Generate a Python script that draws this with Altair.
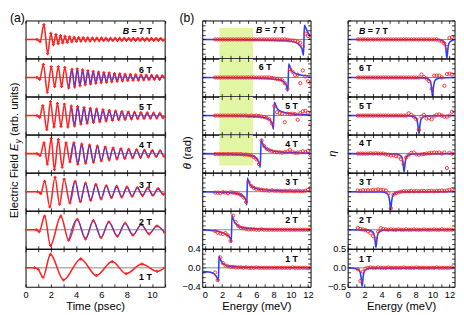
import altair as alt
import pandas as pd

FONT = "Liberation Sans"
RED = "#ff2222"
BLUE = "#2a3cff"
GRAY = "#888888"
GREEN = "#e2f5a2"

FIELDS = [7, 6, 5, 4, 3, 2, 1]

# ---------------- (a) time traces: extrema ----------------
a7_t = [0, 0.9, 1.15, 1.45, 1.75, 2.0, 2.2, 2.4, 2.58, 2.76, 2.94, 3.12, 3.3, 3.48, 3.66, 3.84, 4.02, 4.2, 4.38, 4.56,
        4.74, 4.92, 5.1, 5.28, 5.46, 5.64, 5.82, 6.0, 6.18, 6.36, 6.54, 6.72, 6.9, 7.08, 7.26, 7.44, 7.62, 7.8, 7.98,
        8.16, 8.34, 8.52, 8.7, 8.88, 9.06, 9.24, 9.42, 9.6, 9.78, 9.96, 10.14, 10.32, 10.5, 10.68, 10.86, 11.0]
a7_v = [0, 0, -0.12, 0.78, -0.75, 0.32, -0.28, 0.26, -0.22, 0.2, -0.18, 0.16, -0.15, 0.13, -0.12, 0.11, -0.1, 0.1,
        -0.09, 0.09, -0.08, 0.08, -0.08, 0.07, -0.07, 0.07, -0.07, 0.07, -0.06, 0.06, -0.06, 0.06, -0.06, 0.06, -0.06,
        0.06, -0.06, 0.06, -0.05, 0.05, -0.05, 0.05, -0.05, 0.05, -0.05, 0.05, -0.05, 0.05, -0.05, 0.05, -0.05, 0.05,
        -0.05, 0.05, -0.05, 0.0]
a6_t = [0, 0.9, 1.12, 1.41, 1.72, 2.03, 2.3, 2.59, 2.85, 3.1, 3.41, 3.67, 3.88, 4.09, 4.3, 4.51, 4.72, 4.93, 5.14,
        5.35, 5.56, 5.77, 5.98, 6.19, 6.4, 6.61, 6.82, 7.03, 7.24, 7.45, 7.66, 7.87, 8.08, 8.29, 8.5, 8.71, 8.92, 9.13,
        9.34, 9.55, 9.76, 9.97, 10.18, 10.39, 10.6, 10.81, 11.0]
a6_v = [0, 0, -0.1, 0.69, -0.78, 0.57, -0.47, 0.57, -0.47, 0.53, -0.55, 0.43, -0.5, 0.45, -0.43, 0.4, -0.38, 0.36,
        -0.34, 0.32, -0.3, 0.29, -0.27, 0.26, -0.25, 0.24, -0.22, 0.21, -0.2, 0.19, -0.18, 0.17, -0.16, 0.16, -0.15,
        0.14, -0.14, 0.13, -0.12, 0.12, -0.11, 0.11, -0.1, 0.1, -0.1, 0.09, -0.03]
a5_t = [0, 0.9, 1.12, 1.36, 1.68, 1.97, 2.25, 2.52, 2.8, 3.07, 3.35, 3.62, 3.87, 4.12, 4.37, 4.62, 4.87, 5.12, 5.37,
        5.62, 5.87, 6.12, 6.37, 6.62, 6.87, 7.12, 7.37, 7.62, 7.87, 8.12, 8.37, 8.62, 8.87, 9.12, 9.37, 9.62, 9.87,
        10.12, 10.37, 10.62, 10.87, 11.0]
a5_v = [0, 0, -0.1, 0.52, -0.74, 0.74, -0.6, 0.64, -0.57, 0.6, -0.6, 0.5, -0.55, 0.47, -0.45, 0.42, -0.4, 0.38,
        -0.36, 0.34, -0.32, 0.3, -0.28, 0.27, -0.25, 0.24, -0.22, 0.21, -0.2, 0.19, -0.18, 0.17, -0.16, 0.16, -0.15,
        0.14, -0.14, 0.13, -0.13, 0.12, -0.12, -0.05]
a4_t = [0, 0.9, 1.15, 1.46, 1.72, 2.03, 2.28, 2.59, 2.9, 3.2, 3.51, 3.82, 4.13, 4.44, 4.75, 5.06, 5.37, 5.68, 5.99,
        6.3, 6.61, 6.92, 7.23, 7.54, 7.85, 8.16, 8.47, 8.78, 9.09, 9.4, 9.71, 10.02, 10.33, 10.64, 10.95, 11.0]
a4_v = [0, 0, -0.1, 0.57, -0.55, 0.81, -0.85, 0.74, -0.72, 0.57, -0.43, 0.57, -0.55, 0.5, -0.5, 0.45, -0.45, 0.4,
        -0.38, 0.35, -0.33, 0.3, -0.28, 0.26, -0.25, 0.23, -0.22, 0.2, -0.2, 0.18, -0.17, 0.16, -0.15, 0.15, -0.14,
        -0.13]
a3_t = [0, 0.95, 1.2, 1.51, 1.92, 2.33, 2.69, 3.05, 3.51, 3.92, 4.33, 4.74, 5.15, 5.56, 5.97, 6.38, 6.79, 7.2, 7.61,
        8.02, 8.43, 8.84, 9.25, 9.66, 10.07, 10.48, 10.89, 11.0]
a3_v = [0, 0, -0.1, 0.55, -0.8, 0.76, -0.66, 0.66, -0.59, 0.55, -0.52, 0.45, -0.45, 0.38, -0.38, 0.31, -0.31, 0.28,
        -0.28, 0.24, -0.24, 0.21, -0.21, 0.19, -0.19, 0.16, -0.14, -0.1]
a2_t = [0, 0.85, 1.08, 1.51, 1.97, 2.79, 3.41, 4.08, 4.74, 5.36, 5.97, 6.59, 7.26, 7.87, 8.49, 9.15, 9.77, 10.38, 11.0]
a2_v = [0, 0, -0.1, 0.72, -0.83, 0.72, -0.55, 0.55, -0.48, 0.48, -0.41, 0.41, -0.34, 0.34, -0.28, 0.28, -0.22, 0.2,
        -0.15]
a1_t = [0, 0.7, 1.0, 1.38, 1.97, 3.0, 4.36, 5.6, 6.85, 7.95, 9.2, 10.4, 11.0]
a1_v = [0, 0, -0.08, -0.5, 0.71, -0.64, 0.47, -0.41, 0.33, -0.31, 0.2, -0.19, 0.0]
fit_fields = [6, 5, 4, 3, 2]
fit_start = [3.41, 3.62, 3.51, 3.51, 3.41]

# ---------------- (b) theta and eta ----------------
e_grid = [1.2, 1.5, 1.8, 2.1, 2.4, 2.7, 3.0, 3.3, 3.6, 3.9, 4.2, 4.5, 4.8, 5.1, 5.4, 5.7, 6.0, 6.3, 6.6, 6.9,
          7.2, 7.5, 7.8, 8.1, 8.4, 8.7, 9.0, 9.3, 9.6, 9.9, 10.2, 10.5, 10.8, 11.1, 11.4, 11.7, 12.0, 12.3]

th1 = [-0.10, -0.26, 0.22, 0.10, 0.05, 0.03, 0.02, 0.02, 0.01, 0.01, 0.01, 0.0, 0.01, 0.0, 0.0, 0.0, 0.01, 0.0, 0.0,
       0.0, 0.0, 0.0, 0.0, 0.0, 0.0, 0.0, 0.0, 0.0, 0.0, 0.0, 0.01, 0.0, 0.0, 0.0, 0.0, 0.0, -0.01, 0.0]
th2 = [-0.03, -0.06, -0.08, -0.09, -0.07, -0.12, -0.24, 0.30, 0.16, 0.08, 0.04, 0.03, 0.02, 0.01, 0.01, 0.01, 0.0,
       0.0, 0.01, 0.0, 0.0, 0.0, 0.0, 0.0, 0.0, 0.0, 0.0, 0.0, 0.0, 0.0, 0.0, 0.0, 0.0, 0.0, 0.0, 0.0, 0.0, 0.0]
th3 = [-0.02, -0.02, -0.03, -0.01, -0.02, -0.03, -0.01, -0.02, -0.03, -0.04, -0.07, -0.12, -0.22, 0.20, 0.12, 0.08,
       0.06, 0.05, 0.04, 0.03, 0.03, 0.02, 0.03, 0.02, 0.02, 0.02, 0.01, 0.02, 0.01, 0.02, 0.01, 0.01, 0.02, 0.01,
       0.01, 0.02, 0.04, 0.08]
th4 = [-0.01, -0.01, -0.01, -0.01, -0.01, -0.01, -0.01, -0.01, -0.01, -0.01, -0.01, -0.02, -0.02, -0.03, -0.04,
       -0.07, -0.12, -0.22, 0.28, 0.16, 0.10, 0.07, 0.05, 0.04, 0.03, 0.03, 0.02, 0.03, 0.04, 0.08, 0.03, 0.02, 0.02,
       0.03, 0.05, 0.03, 0.06, -0.04]
th5 = [0.0, 0.0, 0.0, 0.0, 0.0, 0.0, 0.0, 0.0, 0.0, 0.0, 0.0, 0.0, 0.0, -0.01, 0.0, -0.01, 0.0, -0.01, -0.02, -0.03,
       -0.05, -0.08, -0.17, 0.2, 0.07, 0.05, 0.04, -0.14, 0.04, 0.03, 0.04, 0.03, -0.09, 0.05, 0.09, 0.1, 0.06, -0.19]
th6 = [0.0, 0.0, 0.0, 0.0, 0.0, 0.0, 0.0, 0.0, 0.0, 0.0, 0.0, 0.0, 0.0, 0.0, 0.0, 0.0, 0.0, 0.0, 0.0, 0.0, 0.0, 0.0,
       -0.01, -0.02, -0.03, -0.04, -0.06, -0.12, -0.24, 0.18, 0.12, 0.05, 0.06, -0.12, 0.15, 0.02, -0.08, -0.12]
th7 = [0.0, 0.0, 0.0, 0.0, 0.0, 0.0, 0.0, 0.0, 0.0, 0.0, 0.0, 0.0, 0.0, 0.0, 0.0, 0.0, 0.0, 0.0, 0.0, 0.0, 0.0, 0.0,
       0.0, 0.0, 0.0, 0.0, 0.0, 0.0, -0.01, -0.02, -0.02, -0.03, -0.05, -0.07, -0.15, 0.12, 0.07, 0.04]

tb1_e = [-0.3, 0.5, 1.0, 1.3, 1.5, 1.58, 1.66, 1.75, 2.0, 2.5, 3.0, 4.0, 6.0, 12.3]
tb1_v = [-0.08, -0.09, -0.12, -0.17, -0.24, -0.28, 0.25, 0.2, 0.11, 0.05, 0.03, 0.015, 0.005, 0.0]
tb2_e = [-0.3, 1.0, 2.0, 2.5, 2.8, 3.0, 3.08, 3.16, 3.25, 3.5, 4.0, 5.0, 7.0, 12.3]
tb2_v = [0.0, -0.02, -0.06, -0.1, -0.14, -0.2, -0.27, 0.3, 0.26, 0.15, 0.07, 0.03, 0.01, 0.0]
tb3_e = [-0.3, 2.0, 3.5, 4.2, 4.6, 4.8, 4.88, 4.96, 5.05, 5.3, 5.8, 7.0, 9.0, 12.3]
tb3_v = [0.0, -0.01, -0.03, -0.07, -0.13, -0.2, -0.28, 0.29, 0.24, 0.14, 0.08, 0.04, 0.02, 0.01]
tb4_e = [-0.3, 3.0, 5.0, 5.8, 6.15, 6.35, 6.45, 6.55, 6.65, 6.9, 7.4, 8.5, 10.5, 12.3]
tb4_v = [0.0, -0.01, -0.03, -0.07, -0.14, -0.22, -0.29, 0.29, 0.25, 0.15, 0.08, 0.04, 0.02, 0.01]
tb5_e = [-0.3, 4.0, 6.5, 7.3, 7.7, 7.88, 7.98, 8.08, 8.18, 8.45, 9.0, 10.0, 11.5, 12.3]
tb5_v = [0.0, -0.01, -0.03, -0.06, -0.12, -0.2, -0.29, 0.28, 0.25, 0.14, 0.08, 0.04, 0.02, 0.01]
tb6_e = [-0.3, 5.0, 8.0, 8.9, 9.3, 9.55, 9.66, 9.76, 9.86, 10.1, 10.6, 11.5, 12.3]
tb6_v = [0.0, -0.01, -0.03, -0.06, -0.12, -0.2, -0.29, 0.29, 0.25, 0.14, 0.08, 0.04, 0.03]
tb7_e = [-0.3, 6.0, 9.5, 10.5, 11.0, 11.3, 11.48, 11.58, 11.7, 11.9, 12.1, 12.3]
tb7_v = [0.0, -0.01, -0.03, -0.06, -0.12, -0.2, -0.33, 0.3, 0.26, 0.18, 0.11, 0.08]

et1 = [-0.04, -0.35, -0.10, -0.02, 0.0, 0.01, 0.0, 0.0, 0.01, 0.0, 0.0, 0.0, 0.01, 0.0, 0.0, 0.0, 0.0, 0.0, 0.01,
       0.0, 0.0, 0.0, 0.0, 0.01, 0.0, 0.0, 0.0, 0.0, 0.0, 0.0, 0.0, 0.01, 0.0, 0.0, 0.0, 0.0, 0.0, 0.01]
et2 = [0.05, 0.02, 0.01, -0.01, -0.04, -0.09, -0.17, -0.24, -0.05, 0.04, 0.02, 0.01, 0.0, 0.01, 0.0, 0.0, 0.01, 0.0,
       0.0, 0.01, 0.0, 0.0, 0.01, 0.0, 0.0, 0.0, 0.01, 0.0, 0.0, 0.0, 0.01, 0.0, 0.0, 0.01, 0.0, 0.0, 0.0, 0.0]
et3 = [0.03, 0.02, 0.04, 0.03, 0.04, 0.03, 0.05, 0.04, 0.06, 0.05, 0.05, 0.03, -0.04, -0.44, -0.08, -0.04, -0.02,
       0.0, 0.01, 0.01, 0.01, 0.02, 0.01, 0.02, 0.01, 0.02, 0.02, 0.01, 0.02, 0.02, 0.01, 0.02, 0.02, 0.03, 0.02,
       0.03, 0.05, 0.06]
et4 = [0.0, 0.0, 0.0, 0.0, 0.0, 0.01, 0.0, 0.01, 0.0, 0.0, 0.0, -0.02, -0.03, -0.05, -0.04, -0.07, -0.08, -0.15,
       -0.28, -0.1, -0.03, 0.02, 0.03, -0.02, -0.03, -0.02, -0.01, 0.0, 0.01, 0.02, 0.03, 0.02, 0.03, 0.0, 0.03,
       -0.38, 0.02, 0.0]
et5 = [0.0, 0.0, 0.0, 0.0, 0.0, 0.0, 0.0, 0.0, 0.0, 0.0, 0.0, 0.0, 0.0, 0.0, 0.0, 0.0, 0.0, 0.0, 0.0, 0.0, 0.06,
       0.02, -0.03, -0.10, -0.38, -0.03, 0.02, -0.08, -0.06, -0.10, -0.02, 0.02, 0.03, 0.0, -0.03, -0.03, 0.0, 0.10]
et6 = [0.0, 0.0, 0.0, 0.0, 0.0, 0.0, 0.0, 0.0, 0.0, 0.0, 0.0, 0.0, 0.0, 0.0, 0.0, 0.0, 0.0, 0.0, 0.0, 0.0, 0.0,
       0.0, 0.0, 0.0, 0.0, 0.08, 0.01, -0.03, -0.1, -0.3, 0.05, 0.05, 0.05, 0.0, -0.22, 0.09, 0.1, 0.08]
et7 = [0.0, 0.0, 0.0, 0.0, 0.0, 0.0, 0.0, 0.0, 0.0, 0.0, 0.0, 0.0, 0.0, 0.0, 0.0, 0.0, 0.0, 0.0, 0.0, 0.0, 0.0,
       0.0, 0.0, 0.0, 0.0, 0.0, 0.0, 0.0, 0.0, 0.0, 0.0, 0.0, -0.03, -0.05, -0.11, -0.2, 0.04, 0.06]

eb1_e = [0.0, 0.7, 1.2, 1.45, 1.58, 1.7, 1.82, 1.95, 2.2, 2.7, 12.6]
eb1_v = [0.0, -0.01, -0.04, -0.1, -0.25, -0.49, -0.25, -0.1, -0.04, -0.01, 0.0]
eb2_e = [0.0, 2.33, 2.83, 3.08, 3.21, 3.33, 3.45, 3.58, 3.83, 4.33, 12.6]
eb2_v = [0.0, -0.01, -0.04, -0.1, -0.24, -0.47, -0.24, -0.1, -0.04, -0.01, 0.0]
eb3_e = [0.0, 4.07, 4.57, 4.82, 4.95, 5.07, 5.19, 5.32, 5.57, 6.07, 12.6]
eb3_v = [0.0, -0.01, -0.04, -0.1, -0.25, -0.48, -0.25, -0.1, -0.04, -0.01, 0.0]
eb4_e = [0.0, 5.65, 6.15, 6.4, 6.53, 6.65, 6.77, 6.9, 7.15, 7.65, 12.6]
eb4_v = [0.0, -0.01, -0.04, -0.1, -0.25, -0.49, -0.25, -0.1, -0.04, -0.01, 0.0]
eb5_e = [0.0, 7.4, 7.9, 8.15, 8.28, 8.4, 8.52, 8.65, 8.9, 9.4, 12.6]
eb5_v = [0.0, -0.01, -0.04, -0.1, -0.25, -0.49, -0.25, -0.1, -0.04, -0.01, 0.0]
eb6_e = [0.0, 9.0, 9.5, 9.75, 9.88, 10.0, 10.12, 10.25, 10.5, 11.0, 12.6]
eb6_v = [0.0, -0.01, -0.04, -0.1, -0.25, -0.5, -0.25, -0.1, -0.04, -0.01, 0.0]
eb7_e = [0.0, 10.7, 11.2, 11.45, 11.58, 11.7, 11.82, 11.95, 12.2, 12.6]
eb7_v = [0.0, -0.01, -0.04, -0.1, -0.25, -0.5, -0.25, -0.1, -0.04, -0.01]

hl_fields = [7, 6, 5, 4]
hl_e = [1.7, 5.6]
hl_top = [0.24, 0.39, 0.39, 0.39]
hl_bottom = [-0.39, -0.39, -0.39, -0.25]

x_ticks_a = [0, 1, 2, 3, 4, 5, 6, 7, 8, 9, 10, 11]
x_ticks_b = [0, 1, 2, 3, 4, 5, 6, 7, 8, 9, 10, 11, 12]
y_ticks_t = [-0.4, -0.3, -0.2, -0.1, 0, 0.1, 0.2, 0.3, 0.4]
y_ticks_e = [-0.5, -0.375, -0.25, -0.125, 0, 0.125, 0.25, 0.375, 0.5]

A_T = dict(zip(FIELDS, [a7_t, a6_t, a5_t, a4_t, a3_t, a2_t, a1_t]))
A_V = dict(zip(FIELDS, [a7_v, a6_v, a5_v, a4_v, a3_v, a2_v, a1_v]))
FIT = dict(zip(fit_fields, fit_start))
TH = dict(zip(FIELDS, [th7, th6, th5, th4, th3, th2, th1]))
TBE = dict(zip(FIELDS, [tb7_e, tb6_e, tb5_e, tb4_e, tb3_e, tb2_e, tb1_e]))
TBV = dict(zip(FIELDS, [tb7_v, tb6_v, tb5_v, tb4_v, tb3_v, tb2_v, tb1_v]))
ET = dict(zip(FIELDS, [et7, et6, et5, et4, et3, et2, et1]))
EBE = dict(zip(FIELDS, [eb7_e, eb6_e, eb5_e, eb4_e, eb3_e, eb2_e, eb1_e]))
EBV = dict(zip(FIELDS, [eb7_v, eb6_v, eb5_v, eb4_v, eb3_v, eb2_v, eb1_v]))
HL = {f: (t, b) for f, t, b in zip(hl_fields, hl_top, hl_bottom)}

# ---------------- layout / style ----------------
W_A, W_T, W_E, H = 142.5, 111, 109.5, 38.8
XA = alt.Scale(domain=[0, 11], nice=False, zero=False)
XT = alt.Scale(domain=[-0.3, 12.3], nice=False, zero=False)
XE = alt.Scale(domain=[0, 12.6], nice=False, zero=False)
YA = alt.Scale(domain=[-1, 1], nice=False, zero=False)
YT = alt.Scale(domain=[-0.4, 0.4], nice=False, zero=False)
YE = alt.Scale(domain=[-0.5, 0.5], nice=False, zero=False)

ONE = pd.DataFrame({"k": [0]})
ZERO = pd.DataFrame({"z": [0.0]})

# label positions (pixels, relative to each panel)
LBL_A_Y = {7: 10.5, 6: 11.5, 5: 10.5, 4: 11, 3: 12.5, 2: 12, 1: 29}
LBL_T_X = {7: 85, 6: 71, 5: 98, 4: 98, 3: 98, 2: 98, 1: 98}
LBL_T_Y = {7: 10.3, 6: 8.7, 5: 9.8, 4: 9.4, 3: 9.6, 2: 9, 1: 10.5}
LBL_E_Y = {7: 11, 6: 9.7, 5: 10, 4: 9, 3: 9.6, 2: 9, 1: 10.5}
LBL_SIZE = 9


def txt(text, x, y, align="left", italic=False, size=LBL_SIZE, bold=True, angle=0, baseline="middle"):
    kw = dict(text=text, align=align, baseline=baseline, font=FONT, fontSize=size,
              fontWeight="bold" if bold else "normal", fontStyle="italic" if italic else "normal",
              color="black")
    if angle:
        kw["angle"] = angle
    return alt.Chart(ONE).mark_text(**kw).encode(x=alt.value(x), y=alt.value(y))


def field_label_right(B, xr, y):
    if B == 7:
        return [txt("= 7 T", xr, y, align="right"), txt("B", xr - 23.3, y, align="right", italic=True)]
    return [txt(f"{B} T", xr, y, align="right")]


def field_label_left(B, xl, y):
    if B == 7:
        return [txt("B", xl, y, italic=True), txt("= 7 T", xl + 9, y)]
    return [txt(f"{B} T", xl, y)]


def xaxes(values, show, title):
    base = dict(values=values, tickSize=3, offset=-3, domain=False, grid=False, labelFlush=False,
                labelOverlap=False, zindex=1, tickColor="black", tickWidth=0.8)
    bottom = alt.Axis(orient="bottom", labels=show, labelExpr="datum.value % 2 == 0 ? datum.label : ''",
                      labelPadding=3, title=title if show else None, titlePadding=2, **base)
    top = alt.Axis(orient="top", labels=False, title=None, **base)
    return bottom, top


def yaxes(values, show, lim):
    expr = (f"abs(datum.value) < 0.001 || abs(abs(datum.value) - {lim}) < 0.001 ? "
            f"format(datum.value, '.1f') : ''")
    base = dict(values=values, tickSize=3, offset=-3, domain=False, grid=False, labelFlush=False,
                labelOverlap=False, zindex=1, title=None, tickColor="black", tickWidth=0.8)
    left = alt.Axis(orient="left", labels=show, labelExpr=expr, labelPadding=2, **base)
    right = alt.Axis(orient="right", labels=False, **base)
    return left, right


def zero_rule(ys):
    return alt.Chart(ZERO).mark_rule(color=GRAY, strokeWidth=1).encode(y=alt.Y("z:Q", scale=ys, axis=None))


def panel_a(B):
    df = pd.DataFrame({"t": A_T[B], "v": A_V[B]})
    xb, xt = xaxes(x_ticks_a, B == 1, "Time (psec)")
    layers = [zero_rule(YA)]
    layers.append(alt.Chart(df).mark_line(color=RED, strokeWidth=1.6, interpolate="monotone", clip=True).encode(
        x=alt.X("t:Q", scale=XA, axis=xb), y=alt.Y("v:Q", scale=YA, axis=None)))
    if B in FIT:
        dfb = df[df["t"] >= FIT[B]]
        layers.append(alt.Chart(dfb).mark_line(color=BLUE, strokeWidth=1.0, interpolate="monotone",
                                               clip=True).encode(
            x=alt.X("t:Q", scale=XA, axis=None), y=alt.Y("v:Q", scale=YA, axis=None)))
    layers.append(alt.Chart(df).mark_point(shape="cross", filled=True, size=10, color=RED, opacity=1,
                                           clip=True).encode(
        x=alt.X("t:Q", scale=XA, axis=xt), y=alt.Y("v:Q", scale=YA, axis=None)))
    layers += field_label_right(B, 129.3, LBL_A_Y[B])
    if B == 7:
        layers.append(txt("(a)", -16, -8, size=12.5, bold=False, baseline="top"))
    if B == 4:
        layers.append(txt("Electric Field", -10.5, 85.6, size=11.5, bold=False, angle=270))
        layers.append(txt("E", -10.5, 16.6, size=11.5, bold=False, italic=True, angle=270))
        layers.append(txt("y", -7.5, 8.9, size=8.5, bold=False, italic=True, angle=270))
        layers.append(txt("(arb. units)", -10.5, 1.4, size=11.5, bold=False, angle=270))
    return alt.layer(*layers).properties(width=W_A, height=H).resolve_axis(x="independent", y="independent")


def panel_t(B):
    red = pd.DataFrame({"e": e_grid, "v": TH[B]})
    blue = pd.DataFrame({"e": TBE[B], "v": TBV[B]})
    xb, xt = xaxes(x_ticks_b, B == 1, "Energy (meV)")
    yl, yr = yaxes(y_ticks_t, B == 1, 0.4)
    layers = []
    if B in HL:
        top, bot = HL[B]
        rect = pd.DataFrame({"x1": [hl_e[0]], "x2": [hl_e[1]], "y1": [bot], "y2": [top]})
        layers.append(alt.Chart(rect).mark_rect(color=GREEN).encode(
            x=alt.X("x1:Q", scale=XT, axis=None), x2="x2:Q",
            y=alt.Y("y1:Q", scale=YT, axis=None), y2="y2:Q"))
    layers.append(zero_rule(YT))
    layers.append(alt.Chart(blue).mark_line(color=BLUE, strokeWidth=1.6, interpolate="monotone", clip=True).encode(
        x=alt.X("e:Q", scale=XT, axis=xb), y=alt.Y("v:Q", scale=YT, axis=yl)))
    layers.append(alt.Chart(red).mark_point(shape="circle", filled=False, size=11, strokeWidth=0.9, color=RED,
                                            opacity=1, clip=True).encode(
        x=alt.X("e:Q", scale=XT, axis=xt), y=alt.Y("v:Q", scale=YT, axis=yr)))
    layers += field_label_right(B, LBL_T_X[B], LBL_T_Y[B])
    if B == 7:
        layers.append(txt("(b)", -23.3, -8, size=12.5, bold=False, baseline="top"))
    if B == 4:
        layers.append(txt("θ", -15, 35.4, size=11.5, bold=False, italic=True, angle=270))
        layers.append(txt("(rad)", -15, 25.8, size=11.5, bold=False, angle=270))
    return alt.layer(*layers).properties(width=W_T, height=H).resolve_axis(x="independent", y="independent")


def panel_e(B):
    red = pd.DataFrame({"e": e_grid, "v": ET[B]})
    blue = pd.DataFrame({"e": EBE[B], "v": EBV[B]})
    xb, xt = xaxes(x_ticks_b, B == 1, "Energy (meV)")
    yl, yr = yaxes(y_ticks_e, B == 1, 0.5)
    layers = [zero_rule(YE)]
    layers.append(alt.Chart(blue).mark_line(color=BLUE, strokeWidth=1.6, interpolate="monotone", clip=True).encode(
        x=alt.X("e:Q", scale=XE, axis=xb), y=alt.Y("v:Q", scale=YE, axis=yl)))
    layers.append(alt.Chart(red).mark_point(shape="circle", filled=False, size=11, strokeWidth=0.9, color=RED,
                                            opacity=1, clip=True).encode(
        x=alt.X("e:Q", scale=XE, axis=xt), y=alt.Y("v:Q", scale=YE, axis=yr)))
    layers += field_label_left(B, 11.5, LBL_E_Y[B])
    if B == 4:
        layers.append(txt("η", -15, 19.5, size=11.5, bold=False, italic=True, angle=270, align="center"))
    return alt.layer(*layers).properties(width=W_E, height=H).resolve_axis(x="independent", y="independent")


cells = []
for B in FIELDS:
    cells += [panel_a(B), panel_t(B), panel_e(B)]

chart = alt.concat(*cells, columns=3, spacing={"row": 0, "column": 38}, bounds="flush", align="each").properties(
    padding=0)
chart = chart.configure(font=FONT).configure_view(stroke="black", strokeWidth=1).configure_axis(
    labelFont=FONT, titleFont=FONT, labelFontSize=9.5, titleFontSize=11.5, titleFontWeight="normal",
    labelColor="black", titleColor="black")

chart.save("out.html", embed_options={"renderer": "svg", "actions": False})
